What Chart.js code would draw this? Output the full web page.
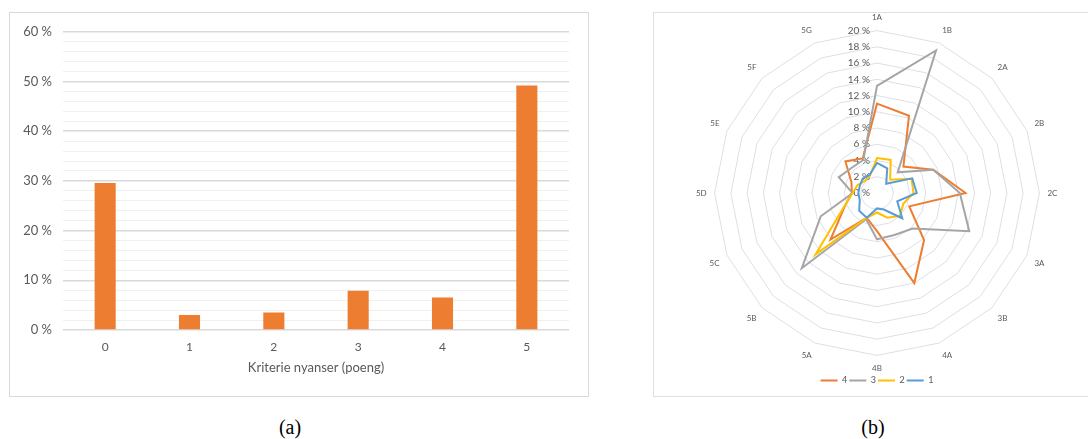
<!DOCTYPE html>
<html><head><meta charset="utf-8">
<script src="https://cdn.jsdelivr.net/npm/chart.js@4.4.1/dist/chart.umd.min.js"></script>
<style>
html,body{margin:0;padding:0;background:#fff;width:1088px;height:439px;overflow:hidden;position:relative;}
.frame{position:absolute;box-sizing:border-box;}
#fa{left:9px;top:12px;width:580px;height:385px;border:1px solid #d9d9d9;}
#fb{left:653px;top:12px;width:460px;height:385px;border:1px solid #dcdfe6;}
.wrap{position:absolute;}
#wa{left:10px;top:13px;width:578px;height:383px;}
#wb{left:654px;top:13px;width:446px;height:382px;}
.cap{position:absolute;top:416px;width:60px;text-align:center;font-family:"Liberation Serif","DejaVu Serif",serif;font-size:20px;line-height:22px;color:#000;}
</style>
</head><body>
<div class="frame" id="fa"></div>
<div class="frame" id="fb"></div>
<div class="wrap" id="wa"><canvas id="ca"></canvas></div>
<div class="wrap" id="wb"><canvas id="cb"></canvas></div>
<div class="cap" style="left:260px">(a)</div>
<div class="cap" style="left:843px">(b)</div>
<script>
// ---- Data: panel (a) ----
const barCategories = ['0', '1', '2', '3', '4', '5'];
const barValues = [29.6, 3.0, 3.5, 7.9, 6.55, 49.2];
const barAxisTitle = 'Kriterie nyanser (poeng)';

// ---- Data: panel (b) ----
const radarLabels = ['1A','1B','2A','2B','2C','3A','3B','4A','4B','5A','5B','5C','5D','5E','5F','5G'];
const series4 = [11.0, 10.3, 4.6, 7.5, 10.9, 4.3, 8.2, 12.0, 4.7, 3.3, 8.1, 4.3, 3.1, 3.4, 5.5, 4.6];
const series3 = [13.2, 19.0, 3.6, 7.5, 10.2, 12.3, 6.2, 5.6, 5.7, 3.5, 13.1, 7.5, 3.0, 5.1, 4.4, 4.4];
const series2 = [4.3, 4.4, 2.3, 4.6, 4.5, 3.5, 4.0, 3.3, 2.4, 3.3, 10.7, 4.4, 3.0, 2.6, 2.1, 2.3];
const series1 = [3.7, 3.3, 1.6, 4.7, 4.9, 2.7, 4.4, 2.2, 1.9, 3.3, 3.1, 2.3, 2.3, 2.3, 2.5, 2.4];
const seriesNames = ['1', '2', '3', '4'];

const FONT = 'Lato, "Liberation Sans", sans-serif';
const TXT = '#595959';

// ---- Chart (a) ----
new Chart(document.getElementById('ca'), {
  type: 'bar',
  data: {
    labels: barCategories,
    datasets: [{ data: barValues, backgroundColor: '#ED7D31', barPercentage: 0.25, categoryPercentage: 1.0 }]
  },
  options: {
    responsive: true, maintainAspectRatio: false, animation: false,
    layout: { padding: { left: 0, right: 19, top: 18, bottom: 0 } },
    plugins: { legend: { display: false }, tooltip: { enabled: false } },
    scales: {
      x: {
        grid: { display: false, drawTicks: false },
        border: { display: false },
        ticks: { color: TXT, font: { family: FONT, size: 12 }, padding: 10 },
        title: { display: true, text: barAxisTitle, color: TXT, font: { family: FONT, size: 13 }, padding: { top: 0, bottom: 20 } },
        afterFit: (s) => { s.height = 66; }
      },
      y: {
        min: 0, max: 60,
        border: { display: false },
        grid: {
          drawTicks: false,
          color: (c) => (c.tick && c.tick.value % 10 === 0) ? '#d9d9d9' : '#f0f0f0',
          lineWidth: (c) => (c.tick && c.tick.value % 10 === 0) ? 1.5 : 1
        },
        ticks: {
          stepSize: 2, autoSkip: false, padding: 11, color: TXT,
          font: { family: FONT, size: 13 },
          callback: (v) => (v % 10 === 0 ? v + ' %' : '')
        },
        afterFit: (s) => { s.width = 53; }
      }
    }
  }
});

// ---- Chart (b) ----
const radialTickLabels = {
  id: 'radialTickLabels',
  beforeDatasetsDraw(chart) {
    const sc = chart.scales.r;
    const ctx = chart.ctx;
    ctx.save();
    ctx.font = '10px ' + FONT;
    ctx.fillStyle = TXT;
    ctx.textAlign = 'right';
    ctx.textBaseline = 'middle';
    sc.ticks.forEach((t) => {
      const y = sc.yCenter - sc.getDistanceFromCenterForValue(t.value);
      ctx.fillText(t.value + ' %', sc.xCenter - 7, y);
    });
    ctx.restore();
  }
};

const colors = ['#5B9BD5', '#FFC000', '#A5A5A5', '#ED7D31'];
const allSeries = [series1, series2, series3, series4];

new Chart(document.getElementById('cb'), {
  type: 'radar',
  data: {
    labels: radarLabels,
    datasets: allSeries.map((d, i) => ({
      label: seriesNames[i], data: d, borderColor: colors[i], backgroundColor: colors[i],
      borderWidth: 2, pointRadius: 0, fill: false, tension: 0
    }))
  },
  options: {
    responsive: true, maintainAspectRatio: false, animation: false,
    layout: { padding: { top: 1, bottom: 0, left: 0, right: 0 } },
    plugins: {
      tooltip: { enabled: false },
      legend: {
        position: 'bottom', reverse: true,
        labels: {
          usePointStyle: true, pointStyle: 'line', pointStyleWidth: 17,
          font: { family: FONT, size: 9 }, color: TXT, padding: 2
        }
      }
    },
    scales: {
      r: {
        min: 0, max: 20,
        ticks: { stepSize: 2, display: false },
        grid: { color: '#dcdfe8', lineWidth: 1 },
        angleLines: { display: false },
        pointLabels: { color: TXT, font: { family: FONT, size: 8 }, padding: 8 }
      }
    }
  },
  plugins: [radialTickLabels]
});
</script>
</body></html>
